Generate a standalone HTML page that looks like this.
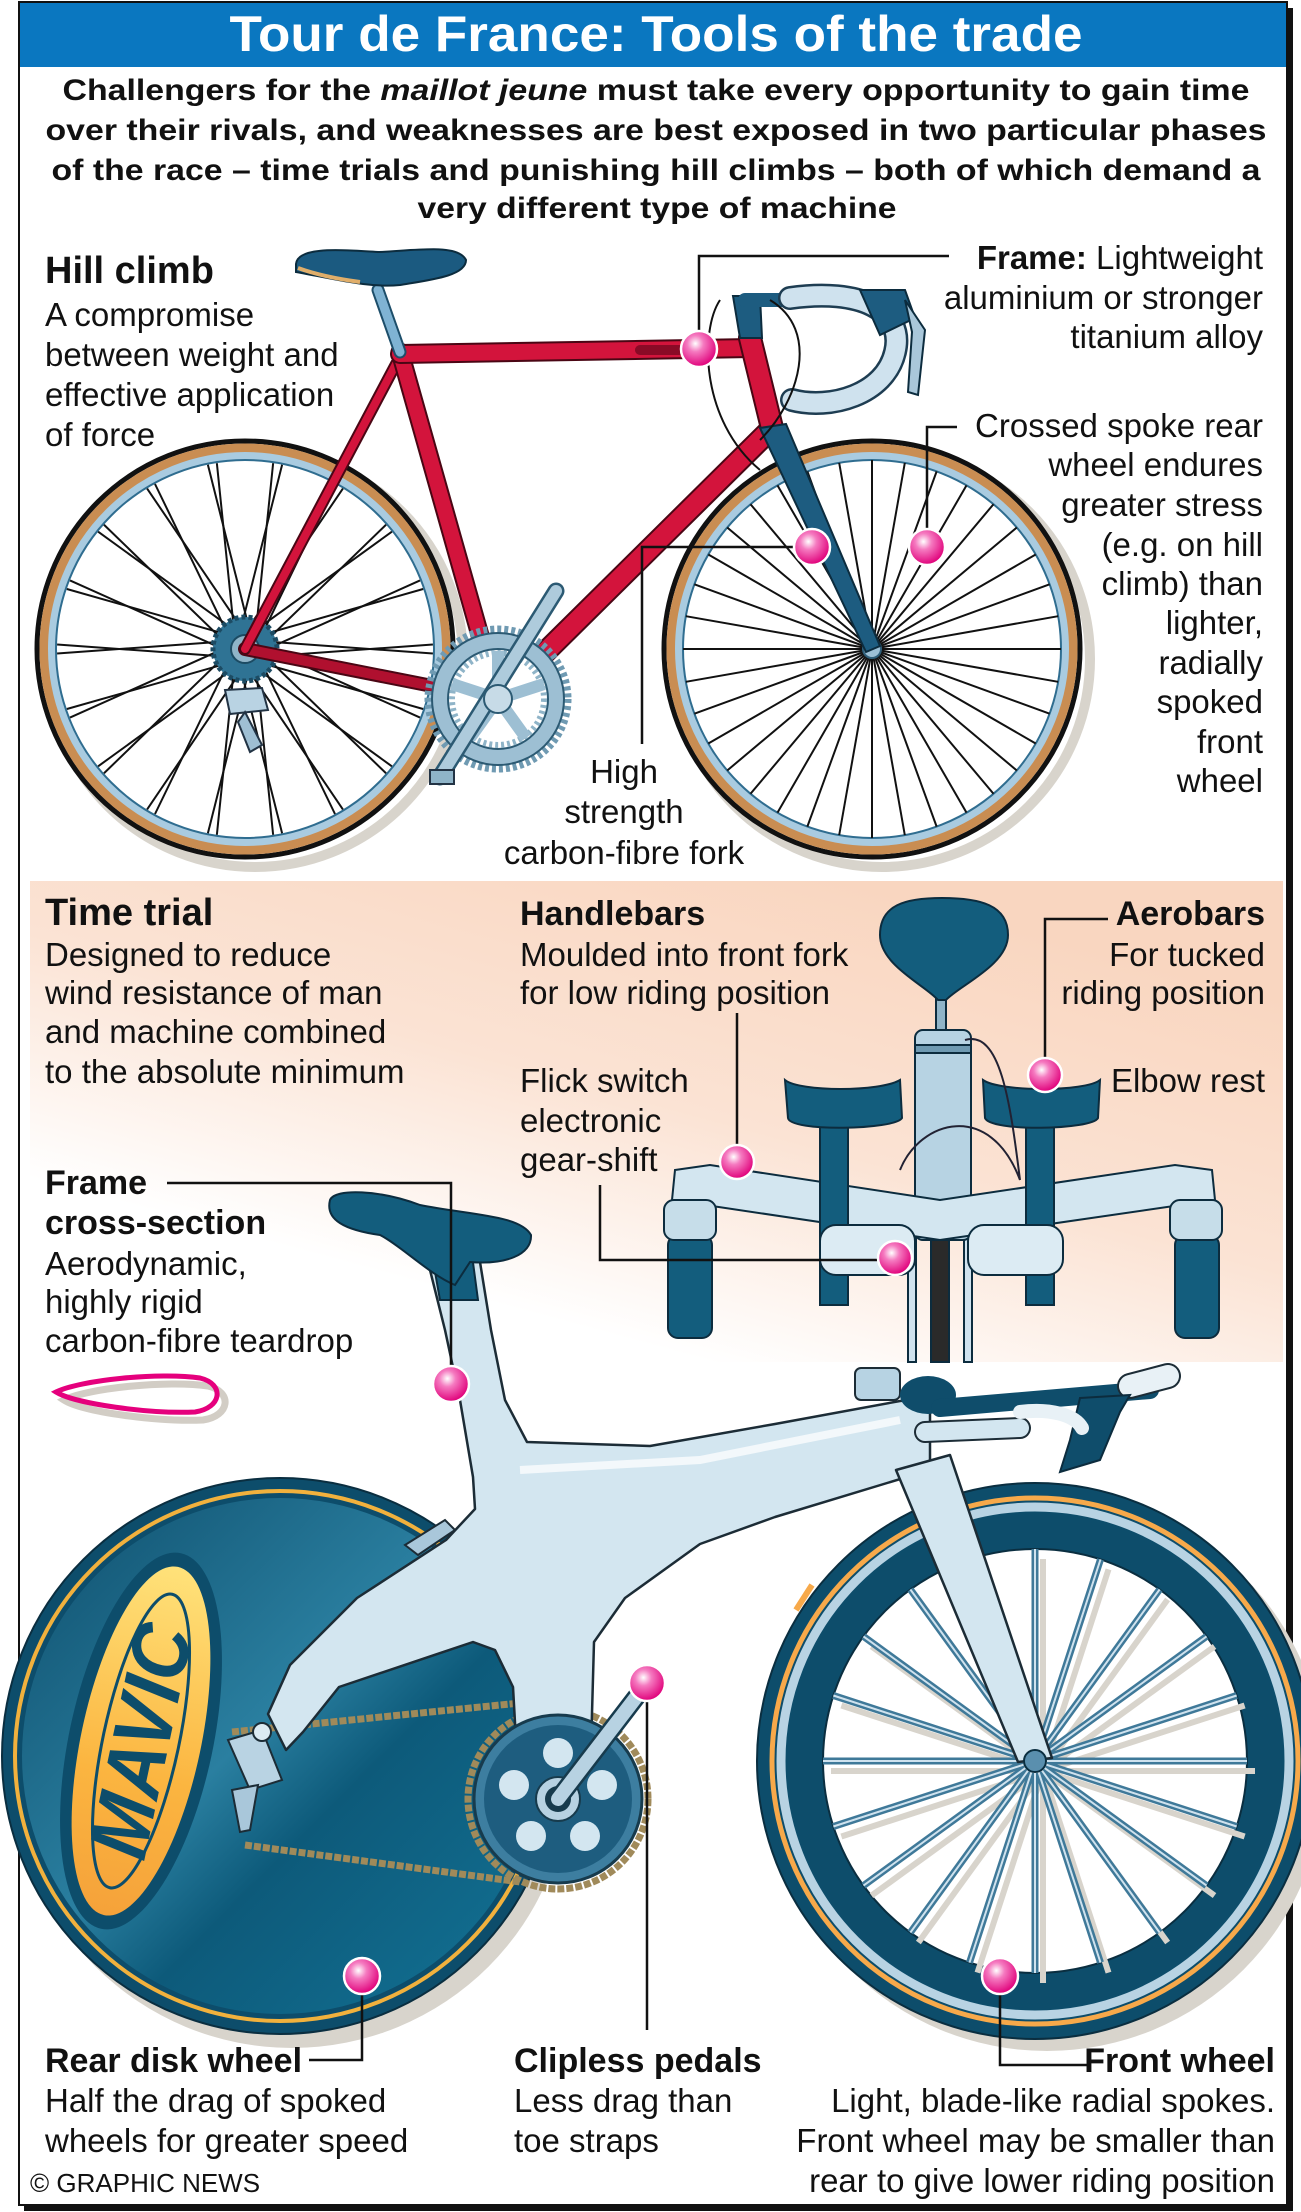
<!DOCTYPE html>
<html><head><meta charset="utf-8"><style>
html,body{margin:0;padding:0;background:#fff;}
svg{display:block;}
text{font-family:"Liberation Sans",Arial,sans-serif;fill:#111;}
.b{font-weight:bold;}
.t{font-size:33px;}
.h{font-size:34px;font-weight:bold;}
.H{font-size:38px;font-weight:bold;}
</style></head><body>
<svg width="1301" height="2212" viewBox="0 0 1301 2212" xmlns="http://www.w3.org/2000/svg">
<defs>
 <radialGradient id="dot" cx="0.4" cy="0.35" r="0.65">
  <stop offset="0" stop-color="#fff"/><stop offset="0.35" stop-color="#f57ac0"/><stop offset="1" stop-color="#e0007a"/>
 </radialGradient>
 <linearGradient id="peach" x1="0.8" y1="0.1" x2="0.2" y2="0.95">
  <stop offset="0" stop-color="#f9d6c0"/><stop offset="0.45" stop-color="#fbe3d4"/><stop offset="0.85" stop-color="#ffffff"/>
 </linearGradient>
 <linearGradient id="disk" x1="0" y1="0" x2="1" y2="1">
  <stop offset="0" stop-color="#0e4e6c"/><stop offset="0.45" stop-color="#2a7fa0"/><stop offset="0.6" stop-color="#0d5a7a"/><stop offset="1" stop-color="#137396"/>
 </linearGradient>
 <linearGradient id="yel" x1="0" y1="0" x2="0" y2="1">
  <stop offset="0" stop-color="#ffe27a"/><stop offset="0.6" stop-color="#fbb540"/><stop offset="1" stop-color="#f5a23a"/>
 </linearGradient>
 <g id="cs"><line x1="10" y1="0" x2="90" y2="-165"/><line x1="-10" y1="0" x2="-90" y2="-165"/></g>
 <g id="cs3"><use href="#cs"/><use href="#cs" transform="rotate(20)"/><use href="#cs" transform="rotate(40)"/></g>
 <g id="cs18"><use href="#cs3"/><use href="#cs3" transform="rotate(60)"/><use href="#cs3" transform="rotate(120)"/><use href="#cs3" transform="rotate(180)"/><use href="#cs3" transform="rotate(240)"/><use href="#cs3" transform="rotate(300)"/></g>
 <g id="r1"><line x1="0" y1="0" x2="0" y2="-189"/></g>
 <g id="r6"><use href="#r1"/><use href="#r1" transform="rotate(10)"/><use href="#r1" transform="rotate(20)"/><use href="#r1" transform="rotate(30)"/><use href="#r1" transform="rotate(40)"/><use href="#r1" transform="rotate(50)"/></g>
 <g id="r36"><use href="#r6"/><use href="#r6" transform="rotate(60)"/><use href="#r6" transform="rotate(120)"/><use href="#r6" transform="rotate(180)"/><use href="#r6" transform="rotate(240)"/><use href="#r6" transform="rotate(300)"/></g>
 <g id="b1"><line x1="0" y1="-12" x2="0" y2="-212"/></g>
 <g id="b5"><use href="#b1"/><use href="#b1" transform="rotate(18)"/><use href="#b1" transform="rotate(36)"/><use href="#b1" transform="rotate(54)"/><use href="#b1" transform="rotate(72)"/></g>
 <g id="b20"><use href="#b5"/><use href="#b5" transform="rotate(90)"/><use href="#b5" transform="rotate(180)"/><use href="#b5" transform="rotate(270)"/></g>
 <g id="wheelHC">
  <circle r="208" fill="none" stroke="#111" stroke-width="5"/>
  <circle r="201" fill="none" stroke="#c98d52" stroke-width="9"/>
  <circle r="193" fill="#fff" stroke="#a9cbe0" stroke-width="8"/>
  <circle r="189" fill="none" stroke="#2f6d90" stroke-width="2"/>
 </g>
</defs>

<!-- frame border -->
<rect x="1286" y="8" width="7" height="2203" fill="#111"/>
<rect x="24" y="2204" width="1269" height="7" fill="#111"/>
<rect x="19" y="2" width="1268" height="2203" fill="#fff" stroke="#111" stroke-width="2"/>

<!-- title -->
<rect x="20" y="3" width="1266" height="64" fill="#0a77c0"/>
<text x="656" y="51" text-anchor="middle" class="b" font-size="50" style="fill:#fff" textLength="853" lengthAdjust="spacingAndGlyphs">Tour de France: Tools of the trade</text>

<g class="b" font-size="30" text-anchor="middle">
<text x="656" y="100" textLength="1187" lengthAdjust="spacingAndGlyphs">Challengers for the <tspan font-style="italic">maillot jeune</tspan> must take every opportunity to gain time</text>
<text x="656" y="140" textLength="1221" lengthAdjust="spacingAndGlyphs">over their rivals, and weaknesses are best exposed in two particular phases</text>
<text x="656" y="180" textLength="1209" lengthAdjust="spacingAndGlyphs">of the race – time trials and punishing hill climbs – both of which demand a</text>
<text x="657" y="218" textLength="479" lengthAdjust="spacingAndGlyphs">very different type of machine</text>
</g>

<!-- HILL CLIMB BIKE -->
<g fill="none" stroke="#d8d4cc">
 <circle cx="255" cy="659" r="208" stroke-width="10"/>
 <circle cx="882" cy="659" r="208" stroke-width="10"/>
</g>
<g transform="translate(245,649)">
 <use href="#wheelHC"/>
 <g stroke="#111" stroke-width="2"><use href="#cs18"/></g>
</g>
<g transform="translate(872,649)">
 <use href="#wheelHC"/>
 <g stroke="#111" stroke-width="2"><use href="#r36"/></g>
 <circle r="9" fill="#9cc0d6" stroke="#2f5f7a" stroke-width="2"/>
</g>
<!-- cassette & derailleur -->
<circle cx="245" cy="649" r="32" fill="#2f7394" stroke="#1c4b63" stroke-width="5" stroke-dasharray="4 3"/>
<circle cx="245" cy="649" r="14" fill="#8fb4c8" stroke="#1c4b63" stroke-width="2"/>
<path d="M225 690 L262 688 L268 710 L230 714 Z" fill="#b9d3e3" stroke="#234" stroke-width="2"/>
<path d="M245 712 L262 745 L250 752 L238 722 Z" fill="#9fbfd3" stroke="#234" stroke-width="2"/>
<!-- frame tubes -->
<g stroke-linecap="round" fill="none">
 <path d="M245 649 L498 699" stroke="#4a0614" stroke-width="14"/>
 <path d="M245 649 L498 699" stroke="#b0102f" stroke-width="10"/>
 <path d="M245 649 L396 364" stroke="#4a0614" stroke-width="12"/>
 <path d="M245 649 L396 364" stroke="#d3143c" stroke-width="8"/>
 <path d="M400 352 L498 699" stroke="#4a0614" stroke-width="19"/>
 <path d="M400 352 L498 699" stroke="#d3143c" stroke-width="15"/>
 <path d="M772 428 L498 699" stroke="#4a0614" stroke-width="23"/>
 <path d="M772 428 L498 699" stroke="#d3143c" stroke-width="19"/>
 <path d="M400 354 L752 348" stroke="#4a0614" stroke-width="20"/>
 <path d="M400 354 L752 348" stroke="#d3143c" stroke-width="16"/>
 <path d="M640 350 L700 350" stroke="#8a0a26" stroke-width="10"/>
 <path d="M750 338 L772 428" stroke="#4a0614" stroke-width="24"/>
 <path d="M750 338 L772 428" stroke="#d3143c" stroke-width="20"/>
 <path d="M378 290 L400 352" stroke="#1d4e6a" stroke-width="13"/>
 <path d="M378 290 L400 352" stroke="#7fb3d3" stroke-width="9"/>
</g>
<!-- fork -->
<polygon points="760,428 786,424 880,646 866,652" fill="#1d5c80" stroke="#0c2c3e" stroke-width="2"/>
<!-- seat -->
<path d="M296 264 C298 246 340 250 380 252 C420 250 458 244 466 260 C466 276 430 280 400 285 C370 288 340 280 296 272 Z" fill="#1b5a80" stroke="#0c2c3e" stroke-width="2"/>
<path d="M298 268 C320 276 345 280 360 282" stroke="#e0ae6a" stroke-width="4" fill="none"/>
<!-- stem & bars -->
<path d="M733 296 L760 296 L762 338 L740 338 Z" fill="#1d5c80" stroke="#0c2c3e" stroke-width="2"/>
<path d="M745 300 L800 300" stroke="#1d5c80" stroke-width="14" stroke-linecap="round"/>
<path d="M790 298 C860 288 905 310 895 352 C885 395 830 410 792 400" fill="none" stroke="#1e3d52" stroke-width="24" stroke-linecap="round"/>
<path d="M790 298 C860 288 905 310 895 352 C885 395 830 410 792 400" fill="none" stroke="#cfe2ee" stroke-width="19" stroke-linecap="round"/>
<path d="M860 290 L905 290 L915 318 L880 335 Z" fill="#1d5c80" stroke="#0c2c3e" stroke-width="2"/>
<path d="M905 300 L925 330 L918 395 L908 392 L912 332 Z" fill="#a9c7da" stroke="#0c2c3e" stroke-width="2"/>
<path d="M720 300 C700 330 700 420 760 470 M770 300 C820 330 800 400 760 440" fill="none" stroke="#111" stroke-width="2"/>
<!-- chainring -->
<g transform="translate(498,699)">
 <circle r="70" fill="none" stroke="#6f9ab2" stroke-width="7" stroke-dasharray="4 3"/>
 <circle r="66" fill="#9dbfd3" stroke="#2c5a73" stroke-width="2"/>
 <circle r="50" fill="#fff" stroke="#2c5a73" stroke-width="2"/>
 <circle r="46" fill="none" stroke="#8fb4c8" stroke-width="6" stroke-dasharray="3 3"/>
 <g stroke="#9dbfd3" stroke-width="12"><line x1="0" y1="0" x2="0" y2="-48"/><line x1="0" y1="0" x2="46" y2="-15"/><line x1="0" y1="0" x2="28" y2="39"/><line x1="0" y1="0" x2="-28" y2="39"/><line x1="0" y1="0" x2="-46" y2="-15"/></g>
</g>
<path d="M440 777 L556 591" stroke="#2c5a73" stroke-width="17" stroke-linecap="round"/>
<path d="M440 777 L556 591" stroke="#aecbdc" stroke-width="12" stroke-linecap="round"/>
<circle cx="498" cy="699" r="14" fill="#c7dbe7" stroke="#2c5a73" stroke-width="2"/>
<rect x="430" y="770" width="24" height="14" fill="#8fb4c8" stroke="#234" stroke-width="2"/>

<!-- hill climb text -->
<text x="45" y="283" class="H">Hill climb</text>
<g class="t">
<text x="45" y="326">A compromise</text>
<text x="45" y="366">between weight and</text>
<text x="45" y="406">effective application</text>
<text x="45" y="446">of force</text>
</g>
<g class="t" text-anchor="end">
<text x="1263" y="269"><tspan font-weight="bold">Frame:</tspan> Lightweight</text>
<text x="1263" y="309">aluminium or stronger</text>
<text x="1263" y="348">titanium alloy</text>
<text x="1263" y="437">Crossed spoke rear</text>
<text x="1263" y="476">wheel endures</text>
<text x="1263" y="516">greater stress</text>
<text x="1263" y="556">(e.g. on hill</text>
<text x="1263" y="595">climb) than</text>
<text x="1263" y="634">lighter,</text>
<text x="1263" y="674">radially</text>
<text x="1263" y="713">spoked</text>
<text x="1263" y="753">front</text>
<text x="1263" y="792">wheel</text>
</g>
<g class="t" text-anchor="middle">
<text x="624" y="783">High</text>
<text x="624" y="823">strength</text>
<text x="624" y="864">carbon-fibre fork</text>
</g>

<!-- TIME TRIAL PANEL -->
<rect x="30" y="881" width="1253" height="481" fill="url(#peach)"/>

<!-- front view handlebars -->
<g stroke="#0c2c3e" stroke-width="2">
 <rect x="908" y="1230" width="8" height="132" fill="#cfe2ee"/>
 <rect x="964" y="1230" width="8" height="132" fill="#cfe2ee"/>
 <rect x="931" y="1230" width="18" height="132" fill="#2a2a2a"/>
 <rect x="936" y="995" width="10" height="40" fill="#8fb4c8"/>
 <path d="M880 935 C880 905 905 898 942 898 C980 898 1008 905 1008 935 C1008 965 960 985 946 1000 L938 1000 C925 985 880 965 880 935 Z" fill="#135d7d"/>
 <rect x="915" y="1030" width="56" height="210" rx="8" fill="#b7d3e3"/>
 <rect x="915" y="1045" width="56" height="8" fill="#6f9ab2"/>
 <path d="M675 1170 L710 1165 L940 1200 L1175 1165 L1212 1170 L1215 1200 L940 1240 L672 1200 Z" fill="#d3e6f0"/>
 <rect x="668" y="1235" width="44" height="103" rx="10" fill="#135d7d"/>
 <rect x="1175" y="1235" width="44" height="103" rx="10" fill="#135d7d"/>
 <rect x="664" y="1200" width="52" height="40" rx="10" fill="#c6dde9"/>
 <rect x="1170" y="1200" width="52" height="40" rx="10" fill="#c6dde9"/>
 <rect x="820" y="1125" width="28" height="180" fill="#135d7d"/>
 <rect x="1026" y="1125" width="28" height="180" fill="#135d7d"/>
 <path d="M785 1080 C800 1092 880 1092 900 1080 L902 1118 C895 1130 790 1132 788 1118 Z" fill="#135d7d"/>
 <path d="M983 1080 C1000 1092 1085 1092 1100 1080 L1098 1118 C1092 1130 990 1132 985 1118 Z" fill="#135d7d"/>
 <rect x="820" y="1225" width="95" height="50" rx="16" fill="#dcebf3"/>
 <rect x="968" y="1225" width="95" height="50" rx="16" fill="#dcebf3"/>
</g>
<path d="M965 1040 C1000 1030 1010 1100 1020 1180 M900 1170 C920 1120 990 1100 1020 1180" fill="none" stroke="#223" stroke-width="2"/>

<!-- time trial text -->
<text x="45" y="925" class="H">Time trial</text>
<g class="t">
<text x="45" y="966">Designed to reduce</text>
<text x="45" y="1004">wind resistance of man</text>
<text x="45" y="1043">and machine combined</text>
<text x="45" y="1083">to the absolute minimum</text>
</g>
<text x="520" y="925" class="h">Handlebars</text>
<g class="t">
<text x="520" y="966">Moulded into front fork</text>
<text x="520" y="1004">for low riding position</text>
<text x="520" y="1092">Flick switch</text>
<text x="520" y="1132">electronic</text>
<text x="520" y="1171">gear-shift</text>
</g>
<text x="1265" y="925" class="h" text-anchor="end">Aerobars</text>
<g class="t" text-anchor="end">
<text x="1265" y="966">For tucked</text>
<text x="1265" y="1004">riding position</text>
<text x="1265" y="1092">Elbow rest</text>
</g>
<text x="45" y="1194" class="h">Frame</text>
<text x="45" y="1234" class="h">cross-section</text>
<g class="t">
<text x="45" y="1275">Aerodynamic,</text>
<text x="45" y="1313">highly rigid</text>
<text x="45" y="1352">carbon-fibre teardrop</text>
</g>
<path d="M64 1400 C88 1388 168 1380 208 1386 C233 1392 230 1416 203 1420 C158 1422 83 1412 64 1400 Z" fill="none" stroke="#d2cdc5" stroke-width="7"/>
<path d="M56 1392 C80 1380 160 1372 200 1378 C225 1384 222 1408 195 1412 C150 1414 75 1404 56 1392 Z" fill="none" stroke="#e5007d" stroke-width="5"/>

<!-- TIME TRIAL BIKE -->
<circle cx="292" cy="1770" r="278" fill="#d8d4cc"/>
<circle cx="1047" cy="1773" r="278" fill="#d8d4cc"/>
<circle cx="280" cy="1756" r="278" fill="#0d4d6b" stroke="#0a2e40" stroke-width="2"/>
<circle cx="280" cy="1756" r="265" fill="none" stroke="#f1b13d" stroke-width="4"/>
<circle cx="280" cy="1756" r="258" fill="url(#disk)"/>
<g transform="translate(141,1741) rotate(12)">
 <ellipse rx="72" ry="192" fill="#0d4d6b"/>
 <ellipse rx="60" ry="178" fill="url(#yel)"/>
 <ellipse rx="38" ry="150" fill="none" stroke="#0d4d6b" stroke-width="3"/>
 <text transform="rotate(-90)" x="0" y="28" text-anchor="middle" font-size="82" font-weight="bold" font-style="italic" style="fill:#0d4d6b" textLength="236" lengthAdjust="spacingAndGlyphs">MAVIC</text>
</g>
<!-- chain -->
<g stroke="#a08a5a" stroke-width="7" fill="none" stroke-dasharray="7 2">
 <path d="M232 1732 L520 1703"/>
 <path d="M245 1845 L520 1882"/>
 <circle cx="558" cy="1799" r="90"/>
</g>
<!-- front wheel -->
<circle cx="1035" cy="1761" r="278" fill="#0d4d6b" stroke="#0a2e40" stroke-width="2"/>
<circle cx="1035" cy="1761" r="263" fill="none" stroke="#f7a94a" stroke-width="5"/>
<circle cx="1035" cy="1761" r="254" fill="none" stroke="#b8d3e3" stroke-width="9"/>
<circle cx="1035" cy="1761" r="212" fill="#fff" stroke="#0a2e40" stroke-width="2"/>
<g transform="translate(1035,1761)">
 <g stroke="#d8d4cc" stroke-width="6" transform="translate(8,10)"><use href="#b20"/></g>
 <g stroke="#3f7999" stroke-width="7"><use href="#b20"/></g>
 <g stroke="#cfe2ee" stroke-width="2"><use href="#b20"/></g>
</g>
<path d="M796 1610 L812 1585" stroke="#f7a94a" stroke-width="6"/>
<!-- frame -->
<path d="M428 1262 L445 1330 L460 1400 L473 1477 L475 1509 L446 1540 L357 1598 L290 1665 L268 1714 L286 1750 L303 1732 L339 1687 L473 1642 L495 1650 L513 1687 L518 1776 L549 1843 L589 1821 L594 1642 L625 1598 L700 1544 L775 1517 L930 1470 L930 1398 L900 1401 L775 1424 L650 1446 L527 1442 L505 1400 L491 1330 L480 1262 Z" fill="#d3e6f0" stroke="#1c2c36" stroke-width="2.5" stroke-linejoin="round"/>
<path d="M520 1470 L700 1460 L900 1420" stroke="#f3f8fb" stroke-width="8" fill="none"/>
<polygon points="896,1470 950,1455 1052,1758 1018,1762" fill="#d3e6f0" stroke="#1c2c36" stroke-width="2.5" stroke-linejoin="round"/>
<circle cx="1035" cy="1761" r="11" fill="#5a8fae" stroke="#0a2e40" stroke-width="2"/>
<!-- derailleur -->
<path d="M228 1740 L262 1730 L282 1780 L250 1790 Z" fill="#b9d3e3" stroke="#1c2c36" stroke-width="2"/>
<path d="M232 1790 L258 1785 L250 1830 L240 1832 Z" fill="#a9c7da" stroke="#1c2c36" stroke-width="2"/>
<circle cx="262" cy="1732" r="9" fill="#dcebf3" stroke="#1c2c36" stroke-width="2"/>
<!-- brake -->
<path d="M405 1545 L445 1520 L455 1530 L418 1555 Z" fill="#a9c7da" stroke="#1c2c36" stroke-width="2"/>
<!-- TT chainring -->
<g transform="translate(558,1799)">
 <circle r="84" fill="#3d7ea0" stroke="#173b4d" stroke-width="3"/>
 <circle r="74" fill="#1e5d7f"/>
 <g fill="#d3e6f0"><circle cx="0" cy="-46" r="15"/><circle cx="44" cy="-14" r="15"/><circle cx="27" cy="37" r="15"/><circle cx="-27" cy="37" r="15"/><circle cx="-44" cy="-14" r="15"/></g>
 <circle r="22" fill="#b7d2e2" stroke="#173b4d" stroke-width="2"/>
 <circle r="13" fill="#173b4d"/>
</g>
<path d="M558 1799 L647 1683" stroke="#173b4d" stroke-width="19" stroke-linecap="round"/>
<path d="M558 1799 L647 1683" stroke="#b7d2e2" stroke-width="14" stroke-linecap="round"/>
<!-- seat & post -->
<path d="M432 1255 L472 1255 L478 1300 L440 1300 Z" fill="#135d7d" stroke="#0c2c3e" stroke-width="2"/>
<path d="M330 1200 C335 1188 380 1190 420 1205 C470 1215 520 1215 531 1235 C532 1255 505 1265 470 1262 L455 1285 C430 1275 400 1245 380 1235 C345 1230 325 1220 330 1200 Z" fill="#135d7d" stroke="#0c2c3e" stroke-width="2"/>
<!-- TT bars -->
<rect x="855" y="1368" width="45" height="32" rx="6" fill="#b7d3e3" stroke="#1c2c36" stroke-width="2"/>
<ellipse cx="928" cy="1395" rx="28" ry="19" fill="#0f4d6b"/>
<path d="M940 1408 L1150 1390" stroke="#0f4d6b" stroke-width="18" stroke-linecap="round"/>
<path d="M1130 1386 L1168 1376" stroke="#1c2c36" stroke-width="26" stroke-linecap="round"/>
<path d="M1130 1386 L1168 1376" stroke="#e8f1f6" stroke-width="22" stroke-linecap="round"/>
<path d="M925 1432 L1020 1428" stroke="#1c2c36" stroke-width="22" stroke-linecap="round"/>
<path d="M925 1432 L1020 1428" stroke="#d3e6f0" stroke-width="18" stroke-linecap="round"/>
<path d="M1080 1398 L1130 1395 L1120 1412 L1100 1460 L1060 1472 L1070 1440 Z" fill="#0f4d6b" stroke="#0c2c3e" stroke-width="2"/>
<path d="M1020 1412 C1050 1408 1075 1415 1082 1428" stroke="#e8f1f6" stroke-width="14" fill="none" stroke-linecap="round"/>

<!-- bottom text -->
<text x="45" y="2072" class="h">Rear disk wheel</text>
<g class="t">
<text x="45" y="2112">Half the drag of spoked</text>
<text x="45" y="2152">wheels for greater speed</text>
</g>
<text x="514" y="2072" class="h">Clipless pedals</text>
<g class="t">
<text x="514" y="2112">Less drag than</text>
<text x="514" y="2152">toe straps</text>
</g>
<text x="1275" y="2072" class="h" text-anchor="end">Front wheel</text>
<g class="t" text-anchor="end">
<text x="1275" y="2112">Light, blade-like radial spokes.</text>
<text x="1275" y="2152">Front wheel may be smaller than</text>
<text x="1275" y="2192">rear to give lower riding position</text>
</g>
<text x="30" y="2192" font-size="26">© GRAPHIC NEWS</text>

<!-- leaders -->
<g fill="none" stroke="#111" stroke-width="2.5">
 <path d="M949 256 H699 V349"/>
 <path d="M812 547 H642 V744"/>
 <path d="M957 427 H927 V547"/>
 <path d="M737 1013 V1162"/>
 <path d="M1108 919 H1045 V1075"/>
 <path d="M600 1185 V1260 H895"/>
 <path d="M167 1183 H451 V1384"/>
 <path d="M647 1683 V2030"/>
 <path d="M362 1976 V2060 H309"/>
 <path d="M1000 1976 V2065 H1087"/>
</g>
<!-- dots -->
<g fill="url(#dot)" stroke="#fff" stroke-width="2.5">
 <circle cx="699" cy="349" r="18"/>
 <circle cx="812" cy="547" r="18"/>
 <circle cx="927" cy="547" r="18"/>
 <circle cx="737" cy="1162" r="17"/>
 <circle cx="1045" cy="1075" r="17"/>
 <circle cx="895" cy="1258" r="17"/>
 <circle cx="451" cy="1384" r="18"/>
 <circle cx="647" cy="1683" r="18"/>
 <circle cx="362" cy="1976" r="18"/>
 <circle cx="1000" cy="1976" r="18"/>
</g>
</svg>
</body></html>
